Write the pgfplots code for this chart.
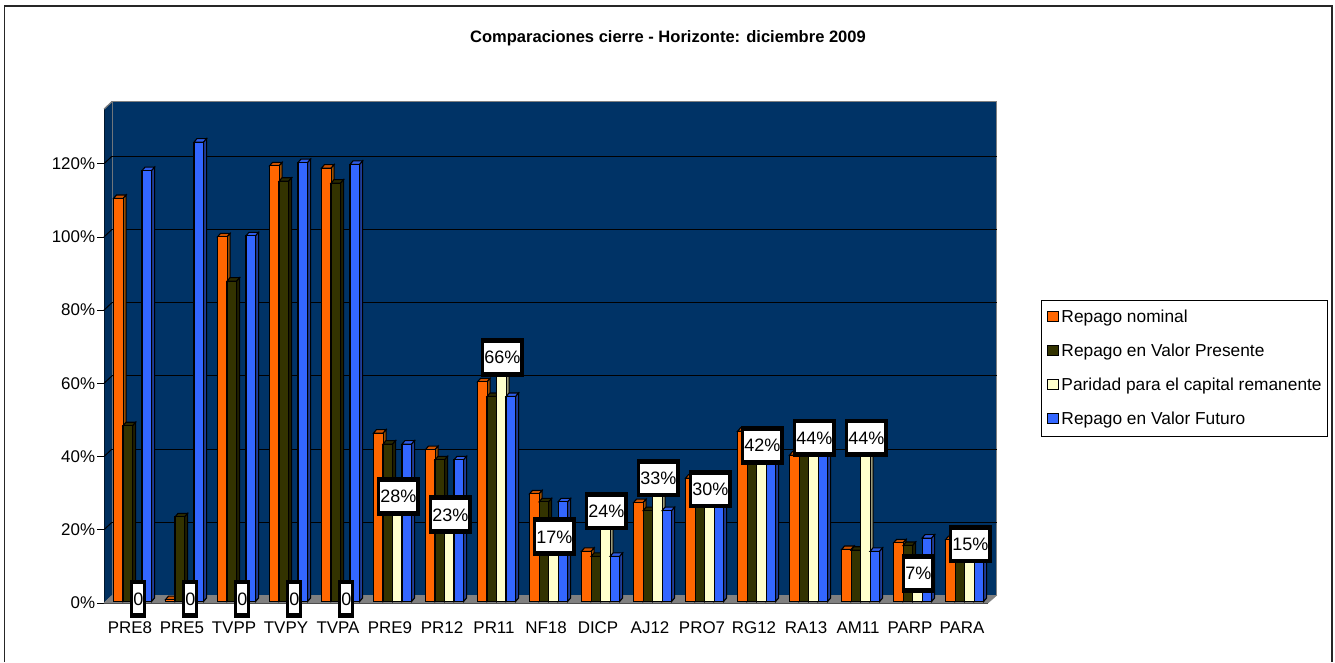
\documentclass[border=0pt]{standalone}
\usepackage{pgfplots}
\usepackage{pgfplotstable}
\usepackage{fontspec}
\setmainfont{Liberation Sans}
\pgfplotsset{compat=1.18}
\definecolor{cOr}{HTML}{FF6600}
\definecolor{cOrT}{HTML}{CC5200}
\definecolor{cOrS}{HTML}{994D00}
\definecolor{cDk}{HTML}{333300}
\definecolor{cDkT}{HTML}{292900}
\definecolor{cDkS}{HTML}{1F1F00}
\definecolor{cYe}{HTML}{FFFFCC}
\definecolor{cYeT}{HTML}{CCCCA3}
\definecolor{cYeS}{HTML}{99997A}
\definecolor{cBl}{HTML}{3366FF}
\definecolor{cBlT}{HTML}{2F5CE6}
\definecolor{cBlS}{HTML}{1F3D99}
\definecolor{cWall}{HTML}{003366}
\definecolor{cFloor}{HTML}{808080}
\pgfplotstableread{
cat nominal presente paridad futuro
PRE8 110.1 48.0 0 117.7
PRE5 0.5 23.1 0 125.5
TVPP 99.6 87.5 0 99.9
TVPY 119.0 114.8 0 119.9
TVPA 118.4 114.3 0 119.4
PRE9 46.0 43.0 28 43.0
PR12 41.5 38.7 23 38.7
PR11 60.0 56.0 66 56.0
NF18 29.4 27.2 17 27.2
DICP 13.7 12.3 24 12.3
AJ12 27.0 24.8 33 24.8
PRO7 33.7 30.0 30 30.0
RG12 46.5 42.0 42 42.0
RA13 40.0 40.0 44 40.0
AM11 14.2 14.0 44 13.7
PARP 16.0 15.3 7 17.3
PARA 16.9 15.0 15 15.0
}\datatable
\newcommand\depthfaces[4]{%
 \pgfplotsforeachungrouped \i in {0,...,16}{%
  \pgfplotstablegetelem{\i}{#1}\of\datatable
  \pgfmathsetmacro\yt{\pgfplotsretval}%
  \pgfmathsetmacro\xl{\i+(9.5+9.5*#2)/52}%
  \pgfmathsetmacro\xr{\xl+9.6/52}%
  \pgfmathsetmacro\xc{\xl+3/52}%
  \pgfmathsetmacro\xd{\xr+3/52}%
  \pgfmathsetmacro\yd{\yt+3.5/3.66}%
  \pgfmathsetmacro\yb{3.5/3.66}%
  \edef\tmp{\noexpand\addplot[barface,fill=#3] coordinates {(\xl,\yt)(\xc,\yd)(\xd,\yd)(\xr,\yt)} --cycle;
  \noexpand\addplot[barface,fill=#4] coordinates {(\xr,\yt)(\xd,\yd)(\xd,\yb)(\xr,0)} --cycle;}\tmp
 }}
\begin{document}
\begin{tikzpicture}[x=1pt,y=1pt]
\useasboundingbox (0,0) rectangle (1001.25,496.5);
\fill[white] (0,0) rectangle (1001.25,496.5);
\draw[black!85,line width=1.2pt] (3.5,0) -- (3.5,491.8) -- (998.8,491.8) -- (998.8,0);
\begin{axis}[
 at={(78pt,44.3pt)},anchor=south west,
 scale only axis,width=669.4pt,height=376pt,
 xmin=0,xmax=17.163,ymin=0,ymax=136.97,
 clip=false,
 axis line style={draw=none},
 axis x line*=bottom,axis y line*=left,
 xtick={0.5,1.5,...,16.5},
 xticklabels={PRE8,PRE5,TVPP,TVPY,TVPA,PRE9,PR12,PR11,NF18,DICP,AJ12,PRO7,RG12,RA13,AM11,PARP,PARA},
 x tick style={draw=none},
 xticklabel style={font=\fontsize{12.7}{15}\selectfont,yshift=-5.5pt,inner xsep=0pt},
 extra x ticks={0,1,...,17},
 extra x tick labels={},
 extra x tick style={tick style={draw=black,line width=0.6pt},major tick length=6pt,tick align=outside},
 ytick={0,20,...,120},
 yticklabel={\pgfmathprintnumber{\tick}\%},
 yticklabel style={font=\fontsize{12.7}{15}\selectfont,inner xsep=1.5pt},
 /pgf/number format/assume math mode=true,
 y tick style={draw=black,line width=0.6pt},
 major tick length=5pt,tick align=outside,
 legend style={at={(1.0495,0.605)},anchor=north west,draw=black,line width=0.6pt,
   font=\fontsize{13}{15}\selectfont,inner xsep=2.5pt,inner ysep=5.5pt,
   legend cell align=left,row sep=10.6pt,/tikz/every even column/.append style={column sep=4pt}},
 legend image code/.code={\path (-2pt,0pt); \draw[line width=0.75pt,#1] (0pt,-4.5pt) rectangle (8pt,3.5pt);},
 barface/.style={draw=black,line width=0.8pt,forget plot,mark=none,yshift=1.1pt},
 frontbar/.style={ybar,/pgf/bar width=7.2pt,draw=black,line width=0.8pt,mark=none,yshift=1.1pt},
]
% walls and floor
\addplot[fill=cWall,draw=cFloor,line width=1pt,forget plot,mark=none] coordinates {(0.154,2.05)(0.154,136.97)(17.163,136.97)(17.163,2.05)} --cycle;
\addplot[fill=cWall!92!black,draw=none,forget plot,mark=none] coordinates {(0,0)(0.154,2.05)(0.154,136.97)(0,134.92)} --cycle;
\addplot[draw=cWall!45!black,line width=0.7pt,forget plot,mark=none] coordinates {(0,0)(0,134.92)};
\addplot[draw=cFloor,line width=0.9pt,forget plot,mark=none] coordinates {(0,134.92)(0.154,136.97)};
\addplot[fill=cFloor,draw=cFloor,forget plot,mark=none] coordinates {(0,0)(0.154,2.05)(17.163,2.05)(17,0)} --cycle;
\addplot[draw=black!70,line width=0.6pt,forget plot,mark=none] coordinates {(0,0)(17,0)};
% gridlines on the back wall
\pgfplotsinvokeforeach{20,40,60,80,100,120}{
 \addplot[black,line width=0.75pt,forget plot,mark=none] coordinates {(0,#1)(0.154,#1+2.05)};
}
\addplot[black,line width=0.75pt,forget plot,mark=none] coordinates {(0.154,22.05)(17.163,22.05)};
\addplot[black,line width=0.75pt,forget plot,mark=none] coordinates {(0.154,42.05)(17.163,42.05)};
\addplot[black,line width=0.75pt,forget plot,mark=none] coordinates {(0.154,62.05)(17.163,62.05)};
\addplot[black,line width=0.75pt,forget plot,mark=none] coordinates {(0.154,82.05)(17.163,82.05)};
\addplot[black,line width=0.75pt,forget plot,mark=none] coordinates {(0.154,102.05)(17.163,102.05)};
\addplot[black,line width=1pt,forget plot,mark=none] coordinates {(0.154,122.05)(17.163,122.05)};
% bars
\depthfaces{nominal}{0}{cOrT}{cOrS}
\addplot[frontbar,fill=cOr,/pgf/bar shift=-8.775pt] table[x expr=\coordindex+0.5,y=nominal] {\datatable};
\addlegendentry{Repago nominal}
\depthfaces{presente}{1}{cDkT}{cDkS}
\addplot[frontbar,fill=cDk,/pgf/bar shift=-1.65pt] table[x expr=\coordindex+0.5,y=presente] {\datatable};
\addlegendentry{Repago en Valor Presente}
\depthfaces{paridad}{2}{cYeT}{cYeS}
\addplot[frontbar,fill=cYe,/pgf/bar shift=5.475pt] table[x expr=\coordindex+0.5,y=paridad] {\datatable};
\addlegendentry{Paridad para el capital remanente}
\depthfaces{futuro}{3}{cBlT}{cBlS}
\addplot[frontbar,fill=cBl,/pgf/bar shift=12.6pt] table[x expr=\coordindex+0.5,y=futuro] {\datatable};
\addlegendentry{Repago en Valor Futuro}
% data labels on top of everything
\addplot[draw=none,mark=none,forget plot,
  point meta=explicit symbolic,
  nodes near coords={\setlength{\fboxsep}{0pt}\colorbox{white}{\rule[-6pt]{0pt}{21.75pt}\pgfplotspointmeta}},
  every node near coord/.style={anchor=center,fill=black,draw=none,
    font=\fontsize{13.5}{15}\selectfont,inner xsep=2.3pt,inner ysep=3.6pt,
    xshift=6.3pt,yshift=3pt}]
 coordinates {
 (0.5,0)[0] (1.5,0)[0] (2.5,0)[0] (3.5,0)[0] (4.5,0)[0]
 (5.5,28)[28\%] (6.5,23)[23\%] (7.5,66)[66\%] (8.5,17)[17\%] (9.5,24)[24\%]
 (10.5,33)[33\%] (11.5,30)[30\%] (12.5,42)[42\%] (13.5,44)[44\%] (14.5,44)[44\%]
 (15.5,7)[7\%] (16.5,15)[15\%]};
\end{axis}
\node[font=\fontsize{12.4}{14}\bfseries\selectfont,anchor=center] at (501,468) {Comparaciones cierre - Horizonte: diciembre 2009};
\end{tikzpicture}
\end{document}
